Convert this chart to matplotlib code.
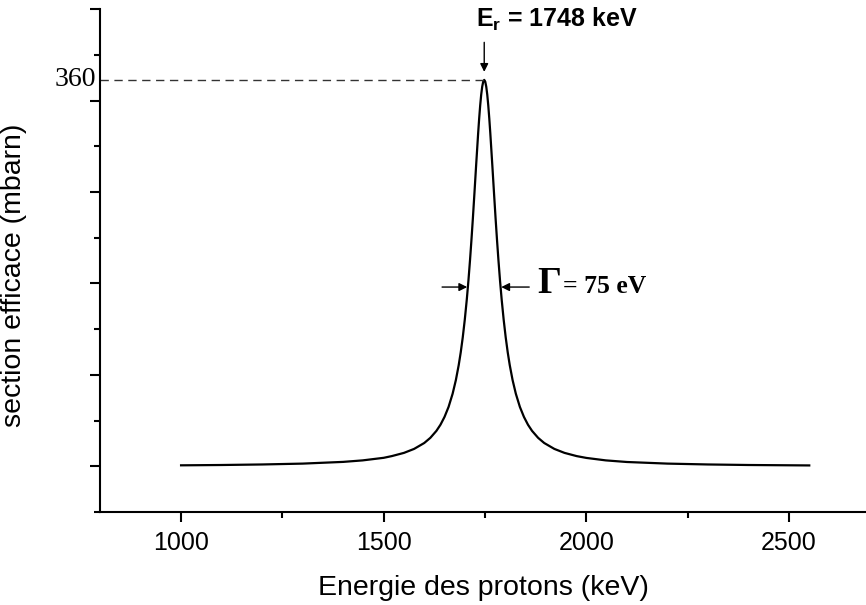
import numpy as np
import matplotlib
matplotlib.use("Agg")
import matplotlib.pyplot as plt
from matplotlib.ticker import FixedLocator, NullFormatter
import matplotlib.transforms as mtransforms

plt.rcParams['font.family'] = ['Liberation Sans', 'DejaVu Sans']
plt.rcParams['mathtext.fontset'] = 'custom'
plt.rcParams['mathtext.rm'] = 'Liberation Sans:bold'
plt.rcParams['mathtext.bf'] = 'Liberation Sans:bold'

# resonance curve (keV, mbarn)
energy = [1000, 1100, 1200, 1300, 1400, 1448, 1500, 1520, 1550, 1575,
          1600, 1615, 1630, 1640, 1650, 1660, 1670, 1678, 1685, 1690,
          1695, 1700, 1705, 1709, 1713, 1716.5, 1720, 1724, 1728, 1733,
          1735.5, 1738, 1740.5, 1743, 1745.5, 1748,
          1750.5, 1753, 1755.5, 1758, 1760.5, 1763, 1768, 1772, 1776,
          1779.5, 1783, 1787, 1791, 1796, 1801, 1806, 1811, 1818, 1826,
          1836, 1846, 1856, 1866, 1881, 1896, 1921, 1946, 1976, 2000,
          2048, 2100, 2200, 2300, 2400, 2550]
sigma = [0.9, 1.2, 1.7, 2.5, 4.1, 5.5, 7.9, 9.5, 12.5, 16.2,
         21.7, 26.5, 33.0, 38.7, 46.0, 55.3, 67.6, 80.3, 94.2, 106.1,
         120.1, 136.5, 155.5, 172.9, 192.4, 211.1, 231.1, 255.4, 280.3, 310.3,
         324.0, 336.1, 346.2, 353.7, 358.4, 360.0,
         358.4, 353.7, 346.2, 336.1, 324.0, 310.3, 280.3, 255.4, 231.1,
         211.1, 192.4, 172.9, 155.5, 136.5, 120.1, 106.1, 94.2, 80.3, 67.6,
         55.3, 46.0, 38.7, 33.0, 26.5, 21.7, 16.2, 12.5, 9.5, 7.8,
         5.5, 4.0, 2.5, 1.7, 1.2, 0.8]

E_res = 1748
sigma_max = 360
x_ticks = [1000, 1500, 2000, 2500]
x_minor = [1250, 1750, 2250]
y_step = 85.2

fig = plt.figure(figsize=(8.66, 6.05), dpi=100)
ax = fig.add_axes([0.1155, 0.1537, 0.8845, 0.8313])

ax.plot(energy, sigma, color='black', lw=1.6, solid_joinstyle='round')

ax.set_xlim(800, 2690)
ax.set_ylim(-y_step / 2, 5 * y_step)

ax.spines['top'].set_visible(False)
ax.spines['right'].set_visible(False)
for s in ['left', 'bottom']:
    ax.spines[s].set_linewidth(1.5)

ax.set_xticks(x_ticks)
ax.xaxis.set_minor_locator(FixedLocator(x_minor))
ax.yaxis.set_major_locator(FixedLocator([i * y_step for i in range(6)]))
ax.yaxis.set_minor_locator(FixedLocator([(i + 0.5) * y_step for i in range(-1, 5)]))
ax.yaxis.set_major_formatter(NullFormatter())
ax.tick_params(axis='both', which='major', direction='out', width=1.5, length=7)
ax.tick_params(axis='both', which='minor', direction='out', width=1.5, length=4)
ax.tick_params(axis='x', which='major', labelsize=18, pad=7)

ax.set_xlabel('Energie des protons (keV)', fontsize=20.5, labelpad=14)
ax.set_ylabel('section efficace (mbarn)', fontsize=20.5)
ax.yaxis.set_label_coords(-0.095, 0.47)

# dashed line at the maximum and its label
ax.plot([800, E_res], [sigma_max, sigma_max], color='#333333', lw=1.0,
        ls=(0, (6, 4)))
trans = mtransforms.blended_transform_factory(ax.transAxes, ax.transData)
ax.text(-0.005, sigma_max, '360', transform=trans, ha='right', va='center',
        fontsize=20, family='Liberation Serif')

# resonance energy label
ax.annotate('', xy=(E_res, 367.5), xytext=(E_res, 395),
            arrowprops=dict(arrowstyle='-|>', color='black', lw=1.0,
                            mutation_scale=12, shrinkA=0, shrinkB=0))
ax.text(1728, 409.5, r'$\mathbf{E_r}$ = 1748 keV', ha='left', va='baseline',
        fontsize=18, fontweight='bold')

# width markers
ax.annotate('', xy=(1706, 167), xytext=(1644, 167),
            arrowprops=dict(arrowstyle='-|>', color='black', lw=1.0,
                            mutation_scale=12, shrinkA=0, shrinkB=0))
ax.annotate('', xy=(1790, 167), xytext=(1859, 167),
            arrowprops=dict(arrowstyle='-|>', color='black', lw=1.0,
                            mutation_scale=12, shrinkA=0, shrinkB=0))
ax.text(1879, 161.5, '\u0393', ha='left', va='baseline', fontsize=27,
        family='Liberation Serif', fontweight='bold')
ax.text(1942, 161.5, '= 75 eV', ha='left', va='baseline', fontsize=18.5,
        family='Liberation Serif', fontweight='bold')

fig.savefig('out.png', dpi=100)
